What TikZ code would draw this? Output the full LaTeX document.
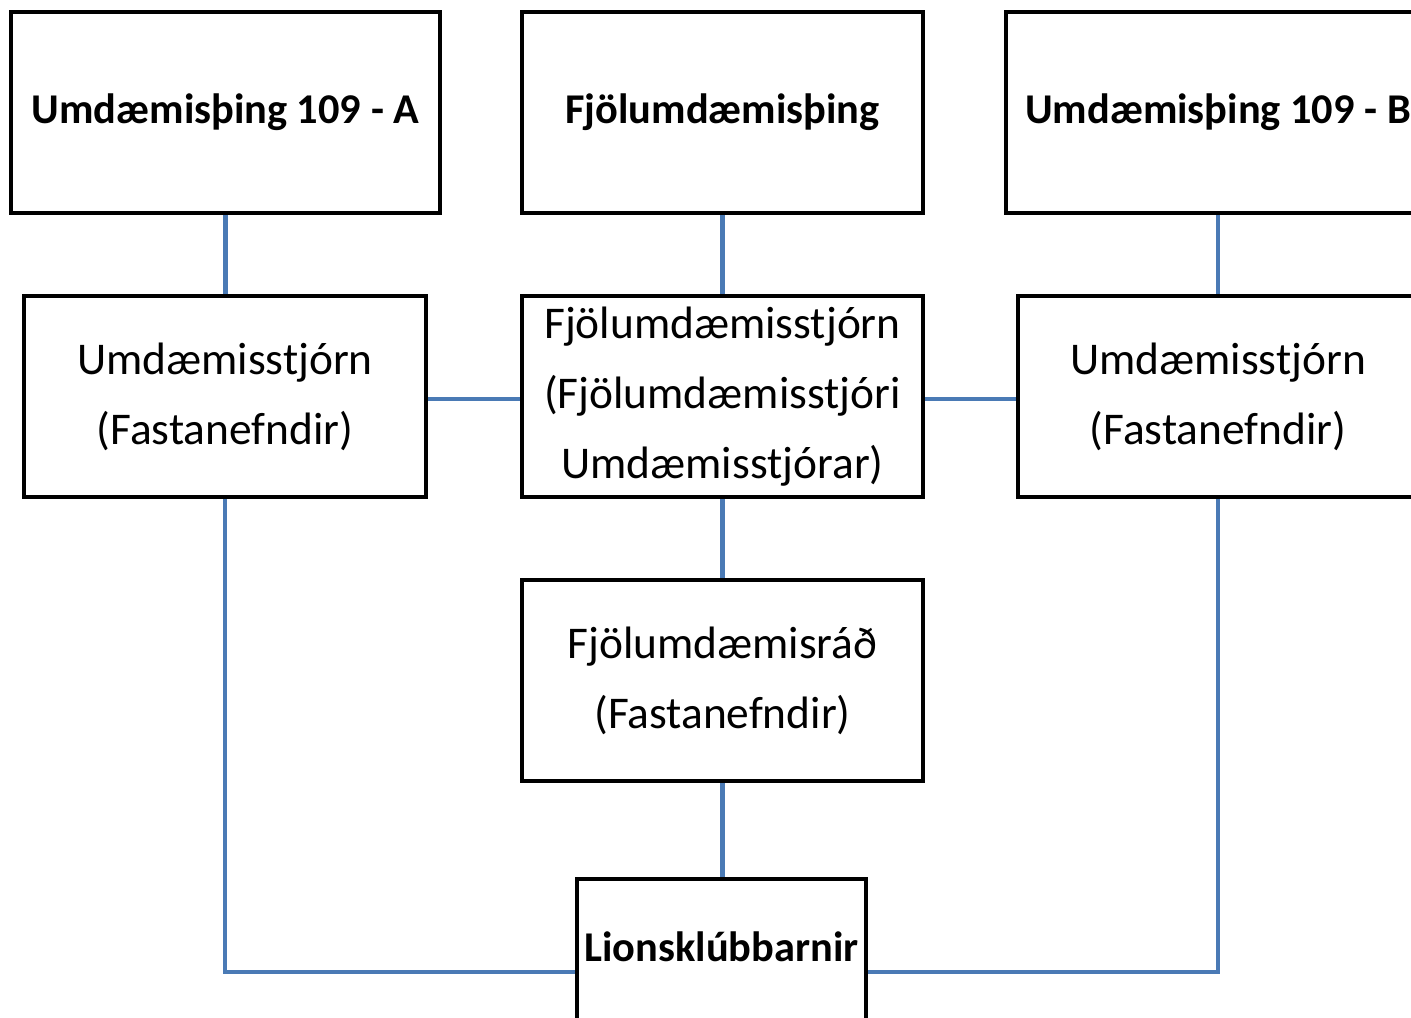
\documentclass[tikz,border=0pt]{standalone}
\usepackage{fontspec}
\setmainfont{Carlito}
\definecolor{linkblue}{HTML}{4A7AB5}

\begin{document}
\begin{tikzpicture}[x=0.5pt, y=-0.5pt,
		box/.style={draw=black, line width=2.2pt, fill=white, align=center, inner sep=0pt,
				minimum height=100.5pt, font=\fontsize{22.7}{35}\selectfont},
		headbox/.style={box, minimum width=#1, font=\bfseries\fontsize{21.2}{35}\selectfont},
		link/.style={linkblue, line width=2.3pt}]

		\useasboundingbox (0,0) rectangle (1411,1017);
		\clip (0,0) rectangle (1411,1017);

		% obere Reihe
		\node[headbox=214.5pt] (distA) at (225.5,112.5) {Umdæmisþing 109 - A};
		\node[headbox=200.5pt] (multi) at (722.5,112.5) {Fjölumdæmisþing};
		\node[headbox=212pt] (distB) at (1218,112.5) {Umdæmisþing 109 - B};

		% Stjórnir
		\node[box, minimum width=201pt] (cabA) at (225,396.5) {Umdæmisstjórn\\(Fastanefndir)};
		\node[box, minimum width=200.5pt] (council) at (722.5,396.5) {Fjölumdæmisstjórn\\(Fjölumdæmisstjóri\\Umdæmisstjórar)};
		\node[box, minimum width=200pt] (cabB) at (1218,396.5) {Umdæmisstjórn\\(Fastanefndir)};

		\node[box, minimum width=200.5pt] (mdc) at (722.5,680.5) {Fjölumdæmisráð\\(Fastanefndir)};

		\node[box, minimum width=144.5pt, anchor=north, text height=41pt, text depth=100pt,
			font=\bfseries\fontsize{21.2}{35}\selectfont] (clubs) at (721.5,877)
			{Lionsklúbbarnir};

		\coordinate (midrow) at (0,399);
		\coordinate (bus) at (0,972);

		\foreach \a/\b in {distA/cabA, multi/council, distB/cabB, council/mdc, mdc/clubs}
			\draw[link] (\a.south) -- (\a.south |- \b.north);

		\draw[link] (cabA.east |- midrow) -- (council.west |- midrow);
		\draw[link] (council.east |- midrow) -- (cabB.west |- midrow);

		\draw[link] (cabA.south) |- (clubs.west |- bus);
		\draw[link] (cabB.south) |- (clubs.east |- bus);
	\end{tikzpicture}
\end{document}
